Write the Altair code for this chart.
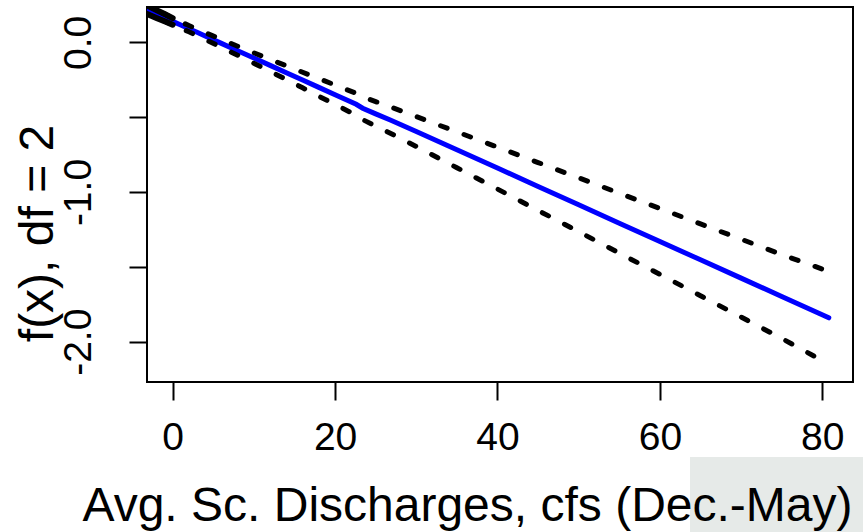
import altair as alt
import pandas as pd

# ---- data ----
x_vals = [-4, -3, -2, -1, 0, 1, 2, 3, 4, 6, 8, 10, 12, 14, 16, 18, 20, 22.6, 23.4, 25, 26.8,
          30, 35, 40, 45, 50, 55, 60, 65, 70, 75, 80.8]
fit_vals = [0.238, 0.214, 0.189, 0.165, 0.140, 0.116, 0.091, 0.067, 0.042, -0.007, -0.056, -0.105,
            -0.154, -0.203, -0.252, -0.301, -0.350, -0.414, -0.440, -0.478, -0.519,
            -0.596, -0.718, -0.840, -0.963, -1.085, -1.208, -1.330, -1.453, -1.575, -1.698, -1.840]
upper_vals = [0.268, 0.242, 0.215, 0.189, 0.162, 0.137, 0.112, 0.089, 0.065, 0.019, -0.026, -0.070,
              -0.114, -0.157, -0.200, -0.242, -0.285, -0.341, -0.364, -0.396, -0.431,
              -0.496, -0.598, -0.700, -0.803, -0.905, -1.008, -1.110, -1.213, -1.315, -1.418, -1.530]
lower_vals = [0.208, 0.186, 0.163, 0.141, 0.118, 0.095, 0.070, 0.045, 0.019, -0.033, -0.086, -0.140,
              -0.194, -0.249, -0.304, -0.360, -0.415, -0.487, -0.516, -0.560, -0.607,
              -0.696, -0.838, -0.980, -1.123, -1.265, -1.408, -1.550, -1.693, -1.835, -1.978, -2.150]

x_ticks = [0, 20, 40, 60, 80]
y_ticks = [-2.0, -1.5, -1.0, -0.5, 0.0]
y_tick_labels = {0.0: "0.0", -1.0: "-1.0", -2.0: "-2.0"}

x_title = "Avg. Sc. Discharges, cfs (Dec.-May)"
y_title = "f(x), df = 2"

x_domain = [-3.16, 83.78]
y_domain = [-2.269, 0.236]

# ---- tables ----
fit_df = pd.DataFrame({"x": x_vals, "y": fit_vals})
ci_df = pd.concat([
    pd.DataFrame({"x": x_vals, "y": upper_vals, "band": "upper"}),
    pd.DataFrame({"x": x_vals, "y": lower_vals, "band": "lower"}),
], ignore_index=True)
dense_df = ci_df[ci_df["x"] <= 0]

FONT = "Liberation Sans"
LABEL_SIZE = 39
TITLE_SIZE = 48

label_expr = " : ".join(
    [f"datum.value == {k} ? '{v}'" for k, v in y_tick_labels.items()]
) + " : ''"

xs = alt.Scale(domain=x_domain, nice=False, zero=False)
ys = alt.Scale(domain=y_domain, nice=False, zero=False)

x_axis = alt.Axis(values=x_ticks, title=x_title, grid=False, domain=False,
                  tickSize=18, tickWidth=2, tickColor="black",
                  labelFontSize=LABEL_SIZE, labelFont=FONT, labelColor="black", labelPadding=18,
                  labelFlush=False, labelOverlap=False,
                  titleFontSize=TITLE_SIZE, titleFont=FONT, titleFontWeight="normal",
                  titleColor="black",
                  titleX=320, titleY=138, titleAlign="center", titleBaseline="alphabetic",
                  zindex=1)
y_axis = alt.Axis(values=y_ticks, title=y_title, grid=False, domain=False,
                  tickSize=18, tickWidth=2, tickColor="black",
                  labelExpr=label_expr, labelAngle=270, labelAlign="center",
                  labelBaseline="alphabetic", labelPadding=39,
                  labelFontSize=LABEL_SIZE, labelFont=FONT, labelColor="black",
                  labelFlush=False, labelOverlap=False,
                  titleFontSize=TITLE_SIZE, titleFont=FONT, titleFontWeight="normal",
                  titleColor="black",
                  titleAngle=270, titleX=-95, titleY=226, titleAlign="center",
                  titleBaseline="alphabetic", zindex=1)

gray = alt.Chart(pd.DataFrame({"k": [0]})).mark_rect(color="#e6eae8", clip=False).encode(
    x=alt.value(543), x2=alt.value(716), y=alt.value(450), y2=alt.value(525)
)

ci = alt.Chart(ci_df).mark_line(color="black", strokeWidth=5, strokeDash=[7, 18],
                                 strokeCap="round", clip=True).encode(
    x=alt.X("x:Q", scale=xs, axis=x_axis),
    y=alt.Y("y:Q", scale=ys, axis=y_axis),
    detail="band:N",
    order="x:Q",
)

dense = alt.Chart(dense_df).mark_line(color="black", strokeWidth=6, strokeCap="round",
                                       clip=True).encode(
    x=alt.X("x:Q", scale=xs),
    y=alt.Y("y:Q", scale=ys),
    detail="band:N",
    order="x:Q",
)

fit = alt.Chart(fit_df).mark_line(color="#0000ff", strokeWidth=5, strokeCap="round",
                                   clip=True).encode(
    x=alt.X("x:Q", scale=xs),
    y=alt.Y("y:Q", scale=ys),
    order="x:Q",
)

chart = alt.layer(gray, fit, ci, dense).properties(
    width=706, height=375,
    autosize=alt.AutoSizeParams(type="none"),
    padding={"left": 147, "top": 7, "right": 10, "bottom": 150},
    background="white",
).configure_view(stroke="black", strokeWidth=2)

chart.save("out.html", embed_options={"renderer": "svg", "actions": False})
